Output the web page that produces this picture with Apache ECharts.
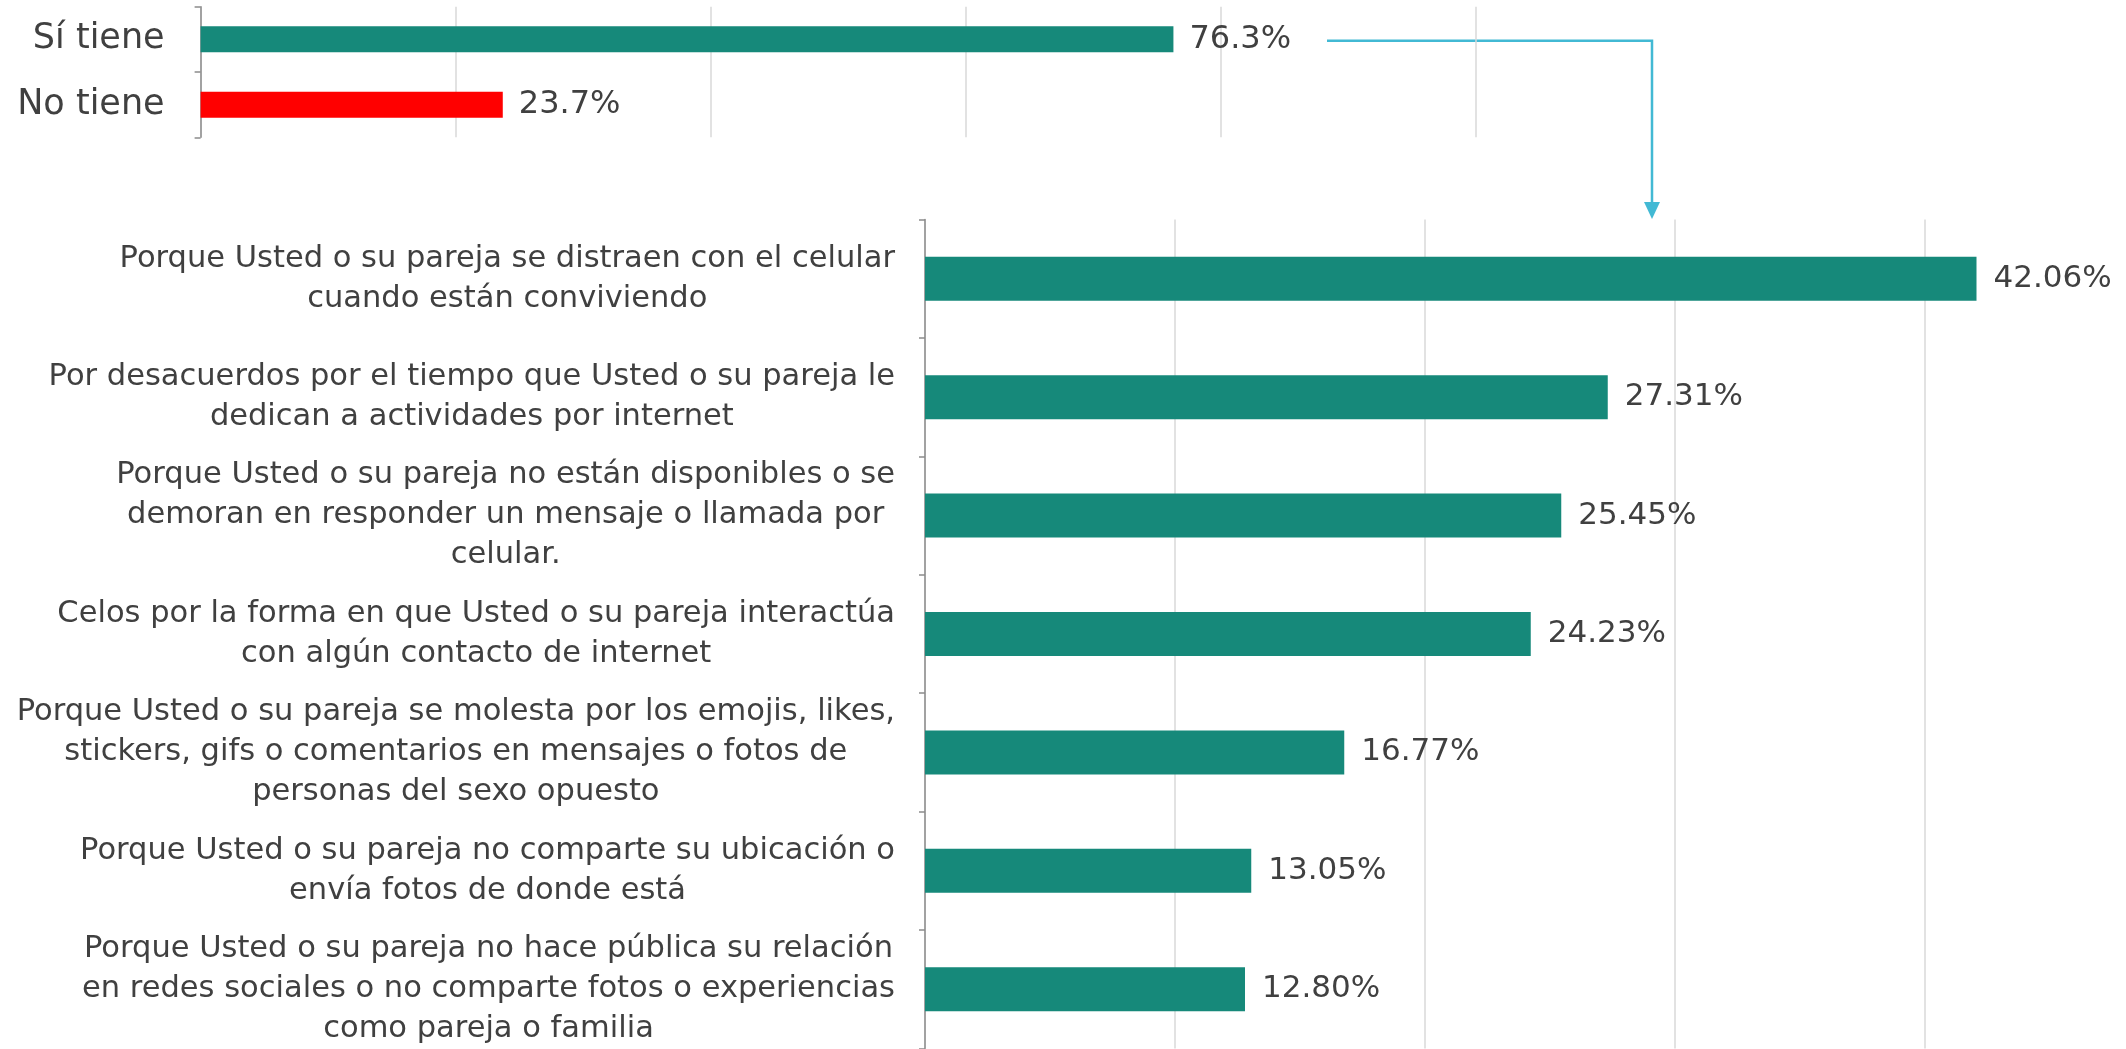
<!DOCTYPE html>
<html><head><meta charset="utf-8">
<script src="https://cdn.jsdelivr.net/npm/echarts@6/dist/echarts.min.js"></script>
<style>html,body{margin:0;padding:0;background:#fff}#c{width:2126px;height:1049px}</style>
</head><body><div id="c"></div>
<script>
// ---- data ----
const topCategories = ['Sí tiene', 'No tiene'];
const topValues = [76.3, 23.7];
const topColors = ['#16897A', '#FF0000'];

const reasonCategories = [
  'Porque Usted o su pareja se distraen con el celular\ncuando están conviviendo',
  'Por desacuerdos por el tiempo que Usted o su pareja le\ndedican a actividades por internet',
  'Porque Usted o su pareja no están disponibles o se\ndemoran en responder un mensaje o llamada por\ncelular.',
  'Celos por la forma en que Usted o su pareja interactúa\ncon algún contacto de internet',
  'Porque Usted o su pareja se molesta por los emojis, likes,\nstickers, gifs o comentarios en mensajes o fotos de\npersonas del sexo opuesto',
  'Porque Usted o su pareja no comparte su ubicación o\nenvía fotos de donde está',
  'Porque Usted o su pareja no hace pública su relación\nen redes sociales o no comparte fotos o experiencias\ncomo pareja o familia'
];
const reasonValues = [42.06, 27.31, 25.45, 24.23, 16.77, 13.05, 12.80];
const reasonColor = '#16897A';

// ---- style ----
const FONT = 'DejaVu Sans';
const TXT = '#404040';
const GRIDC = '#D9D9D9';
const AXC = '#8C8C8C';

const chart = echarts.init(document.getElementById('c'), null, {renderer: 'canvas'});

function valueAxis(idx, max, interval) {
  return {
    type: 'value', gridIndex: idx, min: 0, max: max, interval: interval,
    axisLabel: {show: false}, axisLine: {show: false}, axisTick: {show: false},
    splitLine: {show: true, showMaxLine: idx === 0, lineStyle: {color: GRIDC, width: 1.5}}
  };
}
function catAxis(idx, data, margin, labelOpt) {
  return {
    type: 'category', gridIndex: idx, data: data, inverse: true,
    axisLine: {show: true, lineStyle: {color: AXC, width: 1.5}},
    axisTick: {show: true, length: 6, lineStyle: {color: AXC, width: 1.5}},
    splitLine: {show: false},
    axisLabel: Object.assign({margin: margin, color: TXT, fontFamily: FONT}, labelOpt)
  };
}

const option = {
  backgroundColor: '#ffffff',
  animation: false,
  grid: [
    {left: 200.6, width: 1275, top: 6.7, height: 130.6},
    {left: 925, width: 1200, top: 219.5, height: 833}
  ],
  xAxis: [valueAxis(0, 100, 20), valueAxis(1, 48, 10)],
  yAxis: [
    catAxis(0, topCategories, 36, {fontSize: 35}),
    catAxis(1, reasonCategories, 30, {
      fontSize: 30.5, lineHeight: 40,
      formatter: function (v) { return v.split('\n').map(function (l) { return '{c|' + l + '}'; }).join('\n'); },
      rich: {c: {align: 'center', fontSize: 30.5, lineHeight: 40, color: TXT, fontFamily: FONT}}
    })
  ],
  series: [
    {
      type: 'bar', xAxisIndex: 0, yAxisIndex: 0, barWidth: 26,
      data: topValues.map(function (v, i) { return {value: v, itemStyle: {color: topColors[i]}}; }),
      label: {show: true, position: 'right', distance: 16, fontSize: 32, color: TXT, fontFamily: FONT,
        formatter: function (p) { return p.value.toFixed(1) + '%'; }}
    },
    {
      type: 'bar', xAxisIndex: 1, yAxisIndex: 1, barWidth: 44,
      data: reasonValues, itemStyle: {color: reasonColor},
      label: {show: true, position: 'right', distance: 17, fontSize: 31, color: TXT, fontFamily: FONT,
        formatter: function (p) { return p.value.toFixed(2) + '%'; }}
    }
  ],
  graphic: [
    {type: 'polyline', shape: {points: [[1327, 40.7], [1652, 40.7], [1652, 205]]},
      style: {stroke: '#42B9D4', lineWidth: 2.5, fill: null}},
    {type: 'polygon', shape: {points: [[1644, 202], [1660, 202], [1652, 219]]},
      style: {fill: '#42B9D4'}}
  ]
};
chart.setOption(option);
</script></body></html>
